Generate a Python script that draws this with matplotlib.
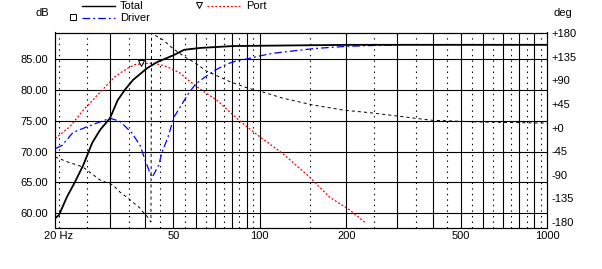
import numpy as np
import matplotlib
matplotlib.use('Agg')
import matplotlib.pyplot as plt
from matplotlib.lines import Line2D

plt.rcParams['font.family'] = ['Liberation Sans', 'DejaVu Sans']
plt.rcParams['font.size'] = 8
plt.rcParams['lines.scale_dashes'] = False

# values
total_f = [19.4, 20, 21.3, 22.7, 24.3, 26.1, 27.8, 30.1, 32, 33.9, 36.2, 40.5, 43.9,
           50, 54.6, 62.2, 80.6, 100, 205, 500, 1000]
total_db = [59.2, 59.7, 62.6, 65.0, 67.8, 71.4, 73.5, 75.4, 78.3, 80.0, 81.6, 83.5, 84.5,
            85.6, 86.5, 86.8, 87.1, 87.15, 87.3, 87.3, 87.3]

driver_f = [19.5, 20.5, 22.4, 25, 27.8, 30.1, 32.6, 35.9, 38.3, 39.9, 41.5, 42.2, 44.5,
            45.7, 47.9, 50.3, 53.3, 56.8, 60, 65, 70, 77, 83, 90, 100, 110, 130, 155,
            185, 200, 250, 300]
driver_db = [70.5, 71.0, 73.1, 74.0, 74.8, 75.4, 74.9, 73.0, 71.0, 68.6, 66.5, 65.8, 67.8,
             69.9, 72.3, 75.6, 77.5, 79.6, 81.0, 82.2, 83.2, 84.2, 84.7, 85.0, 85.5, 85.9,
             86.3, 86.7, 86.95, 87.05, 87.2, 87.3]

port_f = [19.4, 21.8, 24.6, 27.8, 31.3, 32.6, 34.7, 36.8, 40.5, 43.1, 45.6, 48.9, 52.9,
          56.3, 60.4, 71, 83.1, 90.3, 100, 120, 149.6, 175, 206, 234]
port_db = [72.1, 74.0, 77.0, 79.6, 82.1, 82.7, 83.5, 84.1, 84.3, 84.3, 84.0, 83.5, 82.7,
           81.6, 80.5, 78.3, 75.4, 74.0, 72.4, 69.7, 65.8, 62.6, 60.5, 58.4]

phase_f = [19.4, 19.8, 21.5, 24.2, 27.8, 30.9, 32.6, 34.7, 36.1, 38.2, 39.2, 40.5, 41.8,
           42.0, 43.1, 46.0, 50, 55, 60, 65, 79, 91, 102, 120, 153, 196, 244, 394, 487,
           585, 943, 1000]
phase_deg = [-56, -58, -66, -75, -100, -110, -123, -134, -142, -153, -161, -169, -180,
             180, 176, 167, 150, 134, 122, 108, 87, 75, 68, 56, 43, 33, 28, 14, 12,
             10.5, 8.6, 8.5]

port_mark = (38.6, 84.4)

x_ticks = [20, 50, 100, 200, 500, 1000]
x_labels = ['20 Hz', '50', '100', '200', '500', '1000']
db_ticks = [60, 65, 70, 75, 80, 85]
deg_ticks = [180, 135, 90, 45, 0, -45, -90, -135, -180]
deg_labels = ['+180', '+135', '+90', '+45', '+0', '-45', '-90', '-135', '-180']

major_v = [30, 40, 50, 60, 70, 80, 90, 100, 200, 300, 400, 500, 600, 700, 800, 900]
minor_v = [20, 25, 35, 45, 55, 65, 75, 85, 95, 150, 250, 350, 450, 550, 650, 750, 850, 950]

W, H = 602, 269
fig = plt.figure(figsize=(W / 100, H / 100), dpi=100)
ax = fig.add_axes([55.5 / W, 40.7 / H, 491.5 / W, 195.8 / H])
ax.set_xscale('log')
ax.set_xlim(19.45, 1000)
ax.set_ylim(57.55, 89.3)

for f in major_v:
    ax.axvline(f, color='black', lw=0.8, zorder=1)
for f in minor_v:
    ax.axvline(f, color='black', lw=0.8, dashes=(1.0, 3.0), zorder=1)
for d in db_ticks:
    ax.axhline(d, color='black', lw=0.8, zorder=1)

ax.plot(port_f, port_db, color='#ff0000', lw=0.9, dashes=(1.4, 1.4), zorder=3)
ax.plot(driver_f, driver_db, color='#0000ff', lw=0.9, dashes=(5.5, 2.2, 1.4, 2.2), zorder=3)
ax.plot(total_f, total_db, color='black', lw=1.3, zorder=4)
ax.plot([port_mark[0]], [port_mark[1]], marker='v', ms=4.5, mfc='white', mec='black',
        mew=0.7, zorder=5)

ax.set_xticks(x_ticks)
ax.set_xticklabels(x_labels)
ax.xaxis.set_minor_locator(matplotlib.ticker.NullLocator())
ax.set_yticks(db_ticks)
ax.set_yticklabels(['%.2f' % d for d in db_ticks])
ax.tick_params(length=0)
ax.tick_params(axis='x', pad=2)
ax.tick_params(axis='y', pad=5.5)
for s in ax.spines.values():
    s.set_linewidth(0.8)

ax2 = ax.twinx()
ax2.set_ylim(-192, 181)
ax2.plot(phase_f, phase_deg, color='black', lw=0.7, dashes=(2.2, 2.2), zorder=3)
ax2.set_yticks(deg_ticks)
ax2.set_yticklabels(deg_labels)
ax2.tick_params(length=0, pad=3.5)
for s in ax2.spines.values():
    s.set_linewidth(0.8)


def px(x, y):
    return x / W, 1 - y / H


fig.text(*px(36, 13), 'dB', va='center', ha='left')
fig.text(*px(553, 13), 'deg', va='center', ha='left')

legend_items = [
    (82, 115, 6, dict(color='black', lw=1.0), 'Total', 120),
    (82, 115, 18, dict(color='#0000ff', lw=0.9, dashes=(5.5, 2.2, 1.4, 2.2)), 'Driver', 120),
    (207, 240, 6, dict(color='#ff0000', lw=0.9, dashes=(1.4, 1.4)), 'Port', 246),
]
for x0, x1, y, style, label, tx in legend_items:
    (a0, b0), (a1, b1) = px(x0, y), px(x1, y)
    fig.add_artist(Line2D([a0, a1], [b0, b1], transform=fig.transFigure, **style))
    fig.text(*px(tx, y), label, va='center', ha='left')

fig.add_artist(Line2D([px(73, 17)[0]], [px(73, 17)[1]], transform=fig.transFigure,
                      marker='s', ms=5, mfc='white', mec='black', mew=0.7))
fig.add_artist(Line2D([px(199, 5)[0]], [px(199, 5)[1]], transform=fig.transFigure,
                      marker='v', ms=5, mfc='white', mec='black', mew=0.7))

fig.savefig('out.png', dpi=100, facecolor='white')
